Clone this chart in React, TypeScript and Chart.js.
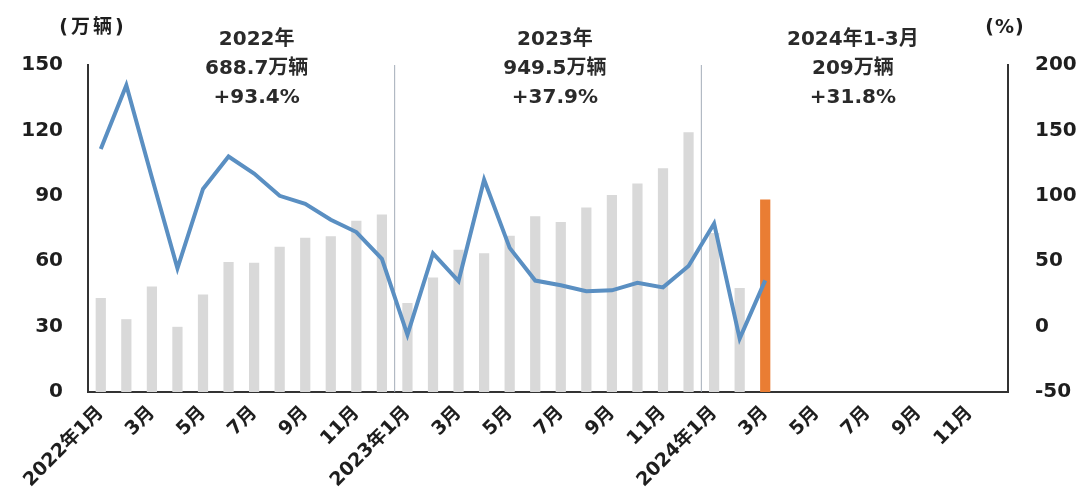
import React, { useEffect, useRef } from "react";
import { Chart, registerables } from "chart.js";

Chart.register(...registerables);

const categories: string[] = [
  "2022年1月", "2月", "3月", "4月", "5月", "6月", "7月", "8月", "9月", "10月", "11月", "12月",
  "2023年1月", "2月", "3月", "4月", "5月", "6月", "7月", "8月", "9月", "10月", "11月", "12月",
  "2024年1月", "2月", "3月", "4月", "5月", "6月", "7月", "8月", "9月", "10月", "11月", "12月",
];

// monthly sales (万辆)
const salesValues: (number | null)[] = [
  43.1, 33.4, 48.4, 29.9, 44.7, 59.6, 59.3, 66.6, 70.8, 71.4, 78.6, 81.4,
  40.8, 52.5, 65.3, 63.6, 71.7, 80.6, 78.0, 84.6, 90.4, 95.6, 102.6, 119.1,
  72.9, 47.7, 88.3,
];

// year-on-year growth (%)
const growthValues: (number | null)[] = [
  135.8, 184.5, 114.0, 44.6, 105.2, 130.0, 117.0, 100.0, 93.9, 81.7, 72.3, 51.8,
  -6.3, 55.9, 34.8, 112.3, 60.2, 35.2, 31.6, 27.0, 27.7, 33.5, 30.0, 46.4,
  78.8, -9.2, 35.3,
];

const leftTicks = { min: 0, max: 150, step: 30 };
const rightTicks = { min: -50, max: 200, step: 50 };

const periodNotes: string[][] = [
  ["2022年", "688.7万辆", "+93.4%"],
  ["2023年", "949.5万辆", "+37.9%"],
  ["2024年1-3月", "209万辆", "+31.8%"],
];
const periodAnchors: number[] = [6.1, 17.77, 29.43];
const separatorsAfter: number[] = [11, 23];
const leftUnit = "(万辆)";
const rightUnit = "(%)";

const FONT = "'DejaVu Sans', 'Noto Sans CJK SC', sans-serif";
const GREY = "#d9d9d9";
const ORANGE = "#ea7d33";
const BLUE = "#5a8fc2";
const INK = "#1e1e1e";

export default function App() {
  const ref = useRef<HTMLCanvasElement | null>(null);

  useEffect(() => {
    if (!ref.current) return;
    const barColors = salesValues.map((_, i) => (i === salesValues.length - 1 ? ORANGE : GREY));

    const decor = {
      id: "decor",
      beforeDatasetsDraw(chart: any) {
        const { ctx, chartArea, scales } = chart;
        const x = scales.x;
        ctx.save();
        ctx.strokeStyle = "#a3adb8";
        ctx.lineWidth = 1;
        separatorsAfter.forEach((idx) => {
          const px = (x.getPixelForValue(idx) + x.getPixelForValue(idx + 1)) / 2;
          ctx.beginPath();
          ctx.moveTo(px, chartArea.top);
          ctx.lineTo(px, chartArea.bottom);
          ctx.stroke();
        });
        ctx.restore();
      },
      afterDraw(chart: any) {
        const { ctx, chartArea, scales } = chart;
        const x = scales.x;
        ctx.save();
        ctx.fillStyle = "#2a2a2a";
        ctx.textAlign = "center";
        ctx.textBaseline = "middle";
        ctx.font = `bold 20px ${FONT}`;
        periodNotes.forEach((lines, k) => {
          const px = x.getPixelForValue(periodAnchors[k]);
          lines.forEach((t, j) => {
            ctx.fillText(t, px, chartArea.top - 25 + j * 29);
          });
        });
        ctx.fillStyle = INK;
        ctx.font = `bold 19px ${FONT}`;
        (ctx as any).letterSpacing = "3px";
        ctx.fillText(leftUnit, chartArea.left + 5, chartArea.top - 37);
        (ctx as any).letterSpacing = "1px";
        ctx.fillText(rightUnit, chartArea.right - 3, chartArea.top - 37);
        (ctx as any).letterSpacing = "0px";
        ctx.restore();
      },
    };

    const chart = new Chart(ref.current, {
      type: "bar",
      data: {
        labels: categories,
        datasets: [
          {
            type: "line",
            label: "增速",
            data: growthValues,
            yAxisID: "y1",
            borderColor: BLUE,
            borderWidth: 4,
            pointRadius: 0,
            tension: 0,
            order: 0,
          } as any,
          {
            type: "bar",
            label: "销量",
            data: salesValues,
            yAxisID: "y",
            backgroundColor: barColors,
            barPercentage: 0.4,
            categoryPercentage: 1,
            order: 1,
          },
        ],
      },
      options: {
        animation: false,
        responsive: true,
        maintainAspectRatio: false,
        layout: { padding: { top: 65, left: 0, right: 0, bottom: 0 } },
        plugins: { legend: { display: false }, tooltip: { enabled: false } },
        scales: {
          x: {
            grid: { display: false, drawTicks: false },
            border: { display: true, color: "#333", width: 2 },
            ticks: {
              autoSkip: false,
              maxRotation: 45,
              minRotation: 45,
              padding: 10,
              color: INK,
              font: { family: FONT, size: 19, weight: "bold" },
              callback: (_v: any, i: number) => (i % 2 === 0 ? categories[i] : ""),
            },
            afterFit: (s: any) => { s.height = 111; },
          },
          y: {
            position: "left",
            min: leftTicks.min,
            max: leftTicks.max,
            grid: { display: false, drawTicks: false },
            border: { display: true, color: "#333", width: 2 },
            ticks: {
              stepSize: leftTicks.step,
              padding: 25,
              color: INK,
              font: { family: FONT, size: 20, weight: "bold" },
            },
            afterFit: (s: any) => { s.width = 88; },
          },
          y1: {
            position: "right",
            min: rightTicks.min,
            max: rightTicks.max,
            grid: { display: false, drawTicks: false },
            border: { display: true, color: "#333", width: 2 },
            ticks: {
              stepSize: rightTicks.step,
              padding: 27,
              color: INK,
              font: { family: FONT, size: 20, weight: "bold" },
            },
            afterFit: (s: any) => { s.width = 74; },
          },
        },
      },
      plugins: [decor],
    });
    return () => chart.destroy();
  }, []);

  return (
    <div style={{ position: "fixed", left: 0, top: 0, width: 1082, height: 503, background: "#fff" }}>
      <canvas ref={ref} />
    </div>
  );
}
